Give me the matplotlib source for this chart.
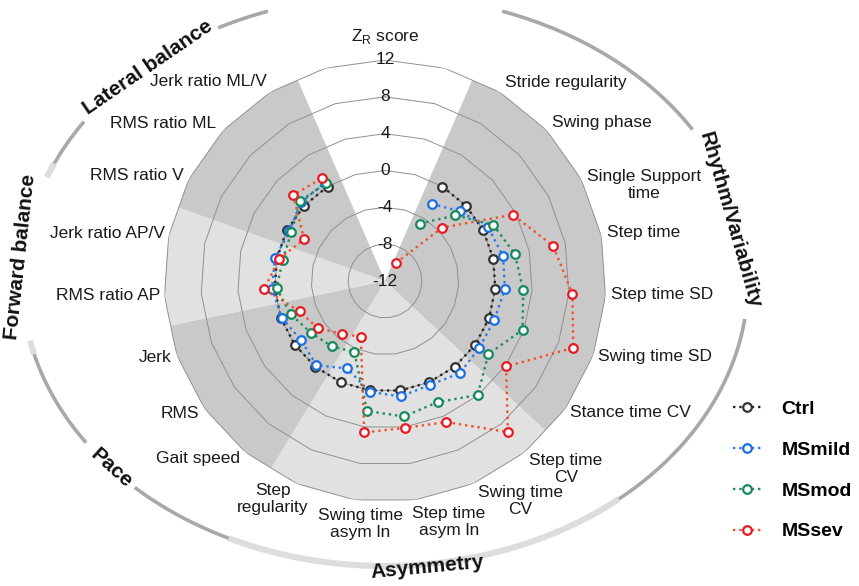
import numpy as np
import matplotlib
matplotlib.use('Agg')
import matplotlib.pyplot as plt

plt.rcParams['font.family'] = ['Liberation Sans', 'DejaVu Sans']
plt.rcParams['mathtext.fontset'] = 'custom'
plt.rcParams['mathtext.rm'] = 'Liberation Sans'

# ---------------- data ----------------
categories = ["Stride regularity", "Swing phase", "Single Support\ntime", "Step time",
              "Step time SD", "Swing time SD", "Stance time CV", "Step time\nCV",
              "Swing time\nCV", "Step time\nasym ln", "Swing time\nasym ln", "Step\nregularity",
              "Gait speed", "RMS", "Jerk", "RMS ratio AP", "Jerk ratio AP/V",
              "RMS ratio V", "RMS ratio ML", "Jerk ratio ML/V"]

ctrl = [0, 0, 0, 0, 0, 0, 0, 0, 0, 0, 0, 0, 0, 0, 0, 0, 0, 0, 0, 0]
ms_mild = [-2.2, -0.9, 0.65, 1.1, 1.05, 0.6, 0.55, 0.9, 0.3, 0.65, 0.15, -1.65,
           -0.2, -0.85, -0.1, 0.3, 0.2, -0.3, 0.5, 0.5]
ms_mod = [-4.7, -1.55, 1.25, 2.4, 3.05, 3.85, 1.75, 3.95, 2.35, 2.85, 2.25, -3.6,
          -2.85, -2.2, -1.15, -0.2, -0.65, -0.55, 0.65, 0.4]
ms_sev = [-9.7, -3.5, 3.65, 6.65, 8.4, 9.7, 4.1, 9.15, 4.7, 4.1, 4.6, -5.4,
          -4.6, -3.1, -2.15, 1.15, -0.25, -2.1, 1.65, 1.1]
series_names = ["Ctrl", "MSmild", "MSmod", "MSsev"]

groups = ["Rhythm/Variability", "Asymmetry", "Pace", "Forward balance", "Lateral balance"]
group_sizes = [7, 5, 3, 2, 3]

ring_values = [-8, -4, 0, 4, 8, 12]
tick_values = [-12, -8, -4, 0, 4, 8, 12]
tick_labels = ["-12", "-8", "-4", "0", "4", "8", "12"]

# ---------------- style / layout ----------------
W, H = 859, 586
CX, CY, R = 385, 281, 221
N_SLOTS = 23
FIRST = 2
DARK, LIGHT = '#c9c9c9', '#e1e1e1'
group_shades = [DARK, LIGHT, DARK, LIGHT, DARK]
arc_styles = [('#a8a8a8', 2.6), ('#dddddd', 4.4), ('#a8a8a8', 2.6), ('#dddddd', 4.4), ('#a8a8a8', 2.6)]
line_colors = ['#222222', '#2a78e6', '#1d8c5c', '#f0502a']
marker_colors = ['#333333', '#1a6fe6', '#178a5c', '#e81a22']

# label layout in pixels: (x, y, ha)
label_layout = [(505, 82, 'left'), (551.5, 123, 'left'), (644, 185, 'center'), (607, 232.5, 'left'),
                (611, 294, 'left'), (598, 356, 'left'), (570.5, 412.5, 'left'), (566, 469, 'center'),
                (520, 501, 'center'), (449, 522, 'center'), (360, 524, 'center'), (273, 499, 'center'),
                (239.5, 459, 'right'), (199, 413, 'right'), (172, 357, 'right'), (160, 295, 'right'),
                (164.5, 233.5, 'right'), (183.5, 175, 'right'), (216, 123, 'right'), (267, 82, 'right')]

# group label: (center angle deg, radial offset px, gap start, gap end)
group_label_layout = [(80.0, -9, 64, 96), (171.5, 3, None, None), (235.7, 0, 230.5, 241.5),
                      (273.8, 3, 260.5, 287.0), (312.0, -2, 298.0, 326.5)]

fig = plt.figure(figsize=(W / 100, H / 100), dpi=100)
ax = fig.add_axes([(CX - R) / W, (H - CY - R) / H, 2 * R / W, 2 * R / H], projection='polar')
ax.set_theta_zero_location('N')
ax.set_theta_direction(-1)
ax.set_ylim(-12, 12)
ax.patch.set_visible(False)
ax.spines['polar'].set_visible(False)
ax.grid(False)
ax.set_xticks([])
ax.set_yticks([])


def th(k):
    return 2 * np.pi * k / N_SLOTS


rb = -12 + 24 * np.cos(np.pi / N_SLOTS)
start = FIRST
group_ranges = []
for size, shade in zip(group_sizes, group_shades):
    T, Rr = [], []
    for k in range(start, start + size):
        T += [th(k - 0.5), th(k)]
        Rr += [rb, 12]
    T.append(th(start + size - 0.5))
    Rr.append(rb)
    T.append(0)
    Rr.append(-12)
    ax.fill(T, Rr, color=shade, lw=0, zorder=1)
    group_ranges.append((start - 0.5, start + size - 0.5))
    start += size

ring_T = [th(k) for k in range(N_SLOTS + 1)]
for rv in ring_values:
    ax.plot(ring_T, [rv] * len(ring_T), color='#909090', lw=0.7, zorder=2)

for tv, tl in zip(tick_values, tick_labels):
    ax.text(0, tv, tl, ha='center', va='center', fontsize=12.5, color='#1a1a1a', zorder=6)

thetas = [th(FIRST + i) for i in range(len(categories))]
handles = []
for i, (vals, name) in enumerate(zip([ctrl, ms_mild, ms_mod, ms_sev], series_names)):
    ln, = ax.plot(thetas, vals, ls=':', lw=1.7, color=line_colors[i], marker='o', ms=6.2,
                  mfc='white', mec=marker_colors[i], mew=1.6, label=name, zorder=10 + i,
                  clip_on=False)
    handles.append(ln)

# ---------------- overlay (pixel coordinates) ----------------
ov = fig.add_axes([0, 0, 1, 1], facecolor='none')
ov.set_xlim(0, W)
ov.set_ylim(H, 0)
ov.axis('off')

ov.text(CX, 37, 'Z$_\\mathrm{R}$ score', ha='center', va='center', fontsize=12.5, color='#1a1a1a')

for lab, (x, y, ha) in zip(categories, label_layout):
    ov.text(x, y, lab, ha=ha, va='center', fontsize=12.5, color='#1a1a1a',
            multialignment='center', linespacing=1.15)

EA, EB = 363, 285


def ell_pt(deg, off=0.0):
    t = np.radians(deg)
    s, c = np.sin(t), np.cos(t)
    rr = 1 / np.sqrt((s / EA) ** 2 + (c / EB) ** 2) + off
    return CX + rr * s, CY - rr * c


slot_deg = 360.0 / N_SLOTS
for (k0, k1), (col, lw), (ca, off, g0, g1), name in zip(group_ranges, arc_styles,
                                                         group_label_layout, groups):
    d0, d1 = k0 * slot_deg, k1 * slot_deg
    degs = np.linspace(d0, d1, 300)
    if g0 is not None:
        mask = (degs < g0) | (degs > g1)
    else:
        mask = np.ones_like(degs, bool)
    seg = []
    for d, m in zip(degs, mask):
        if m:
            seg.append(ell_pt(d))
        elif seg:
            xs, ys = zip(*seg)
            ov.plot(xs, ys, color=col, lw=lw, solid_capstyle='butt')
            seg = []
    if seg:
        xs, ys = zip(*seg)
        ov.plot(xs, ys, color=col, lw=lw, solid_capstyle='butt')
    px, py = ell_pt(ca, off)
    u, v = px - CX, CY - py
    tx, ty = -v / EB ** 2, u / EA ** 2
    rot = np.degrees(np.arctan2(ty, tx))
    if rot > 90:
        rot -= 180
    if rot < -90:
        rot += 180
    ov.text(px, py, name, ha='center', va='center', rotation=rot, rotation_mode='anchor',
            fontsize=15, fontweight='bold', color='#111111', zorder=5)

leg = fig.legend(handles=handles, labels=series_names, loc='upper left',
                 bbox_to_anchor=(733 / W, 1 - 400 / H), frameon=False, borderpad=0,
                 borderaxespad=0, handlelength=1.45, handletextpad=1.05, labelspacing=1.2,
                 prop={'weight': 'bold', 'size': 14}, numpoints=1)

fig.savefig('out.png', dpi=100, facecolor='white')
